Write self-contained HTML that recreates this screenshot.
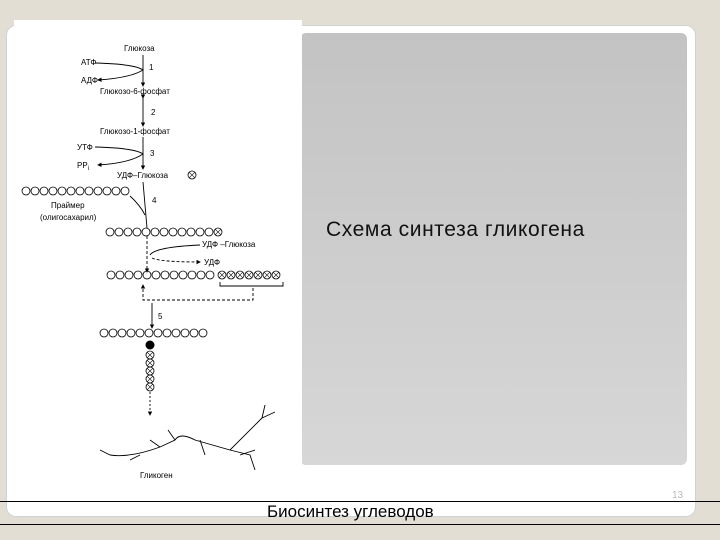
<!DOCTYPE html>
<html><head><meta charset="utf-8"><style>
body{margin:0;width:720px;height:540px;background:#e2ded4;position:relative;overflow:hidden;font-family:"Liberation Sans","DejaVu Sans",sans-serif}
.card{position:absolute;left:6px;top:25px;width:688px;height:490px;background:#fff;border-radius:10px;border:1px solid #cfd3d6}
.gray{position:absolute;left:300px;top:33px;width:387px;height:432px;border-radius:6px;background:linear-gradient(#c3c3c3,#d7d7d7)}
.img{position:absolute;left:14px;top:20px;width:288px;height:468px;background:#fff}
.t{position:absolute;left:326px;top:218px;font-size:21px;letter-spacing:0.6px;color:#111}
.l1{position:absolute;left:0;top:501px;width:720px;height:1px;background:#000}
.l2{position:absolute;left:0;top:524px;width:720px;height:1px;background:#000}
.f{position:absolute;left:267px;top:502px;font-size:17px;color:#000}
.n{position:absolute;left:672px;top:490px;font-size:10px;color:#bbb}
</style></head><body>
<div class="card"></div><div class="gray"></div><div class="img"></div>
<svg id="s" style="position:absolute;left:0;top:0" width="720" height="540" font-family="Liberation Sans, sans-serif" font-size="8" fill="#000">
<defs><marker id="a" markerWidth="5" markerHeight="5" refX="4" refY="2.5" orient="auto"><path d="M0,0L5,2.5L0,5z"/></marker></defs>
<g stroke="#000" stroke-width="0.9" fill="none">
<line x1="143" y1="55" x2="143" y2="86" marker-end="url(#a)"/>
<path d="M95,63 Q135,64 143,70 Q130,78 98,80" marker-end="url(#a)"/>
<line x1="143" y1="98" x2="143" y2="126" marker-end="url(#a)" marker-start="url(#a)"/>
<line x1="143" y1="137" x2="143" y2="169" marker-end="url(#a)"/>
<path d="M95,147 Q135,148 143,154 Q130,163 98,165" marker-end="url(#a)"/>
<line x1="143" y1="182" x2="147" y2="228"/>
<path d="M130,196 Q140,205 145,215"/>
<line x1="147" y1="236" x2="147" y2="272" marker-end="url(#a)" stroke-dasharray="3,2"/>
<path d="M200,245 Q155,247 150,255"/>
<path d="M152,258 Q160,262 200,262" marker-end="url(#a)" stroke-dasharray="3,2"/>
<path d="M220,282 L220,286 L283,286 L283,282"/>
<path d="M253,288 L253,300 L143,300 L143,285" stroke-dasharray="3,2" marker-end="url(#a)"/>
<line x1="152" y1="303" x2="152" y2="328" marker-end="url(#a)"/>
<line x1="150" y1="392" x2="150" y2="415" stroke-dasharray="2,2" marker-end="url(#a)"/>
<path d="M110,455 Q130,458 160,447 L175,440 Q180,432 195,440 L230,450 Q250,430 262,418 L265,405 M175,440 L168,430 M160,447 L150,440 M200,440 L205,455 M230,450 L250,455 L255,470 M262,418 L275,412 M240,455 L255,450 M110,455 L100,450 M140,455 L130,460"/>
</g>
<g id="ch" fill="none" stroke="#000" stroke-width="0.8"></g>
<circle cx="150" cy="345" r="4.5"/>
<text x="124" y="51">Глюкоза</text><text x="81" y="65">АТФ</text><text x="81" y="83">АДФ</text><text x="149" y="70">1</text>
<text x="100" y="94">Глюкозо-6-фосфат</text><text x="151" y="115">2</text>
<text x="100" y="134">Глюкозо-1-фосфат</text><text x="77" y="150">УТФ</text><text x="77" y="168">PP<tspan font-size="6" dy="2">i</tspan></text><text x="150" y="156">3</text>
<text x="117" y="178">УДФ–Глюкоза</text><text x="152" y="203">4</text>
<text x="51" y="208">Праймер</text><text x="40" y="220">(олигосахарил)</text>
<text x="202" y="247">УДФ –Глюкоза</text><text x="204" y="265">УДФ</text>
<text x="158" y="319">5</text><text x="140" y="478">Гликоген</text>
</svg>
<script>
var g=document.getElementById('ch'),h='';
function c(x,y,cr){h+='<circle cx="'+x+'" cy="'+y+'" r="4"/>';if(cr)h+='<path d="M'+(x-2.8)+','+(y-2.8)+'L'+(x+2.8)+','+(y+2.8)+'M'+(x+2.8)+','+(y-2.8)+'L'+(x-2.8)+','+(y+2.8)+'" stroke-width="0.6"/>';}
function row(x0,n,y,cr){for(var i=0;i<n;i++)c(x0+i*9,y,cr);}
row(26,12,191);row(110,12,232);c(218,232,1);c(192,175,1);
row(111,12,275);row(222,7,275,1);row(104,12,333);
for(var j=0;j<5;j++)c(150,355+j*8,1);
g.innerHTML=h;
</script>
<div class="t">Схема синтеза гликогена</div>
<div class="l1"></div><div class="l2"></div>
<div class="f">Биосинтез углеводов</div><div class="n">13</div>
</body></html>
